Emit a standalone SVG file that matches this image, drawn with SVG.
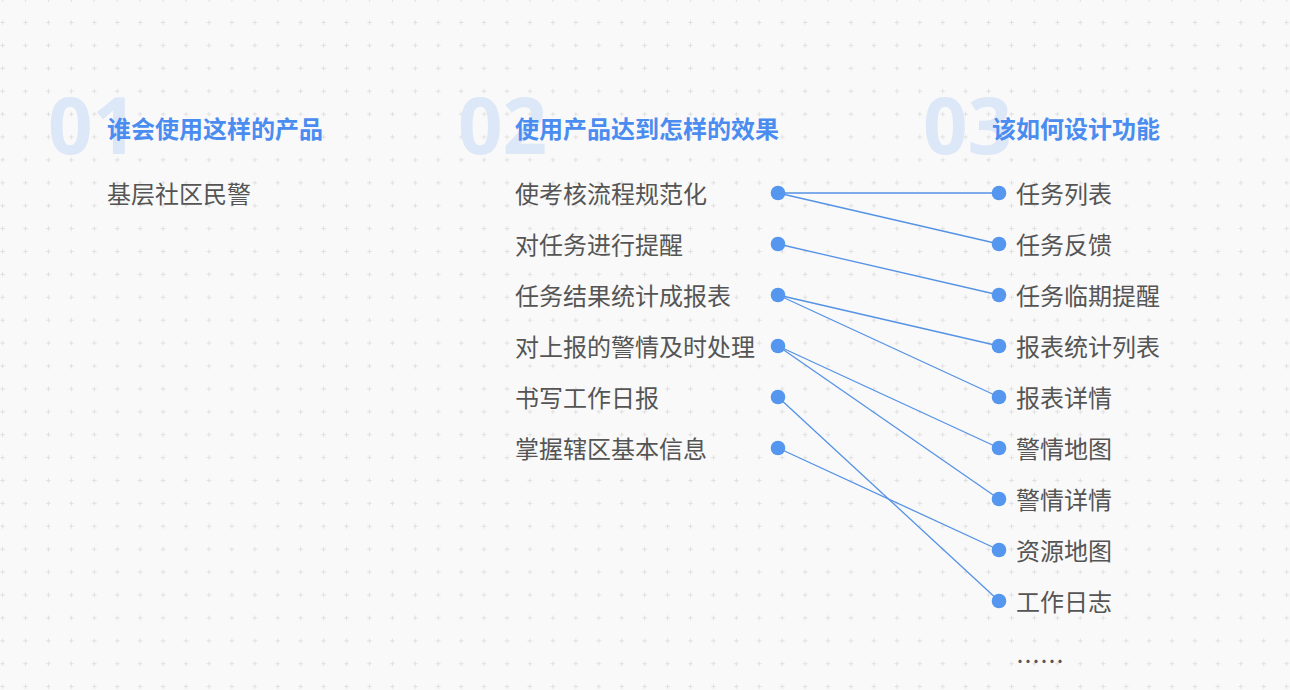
<svg xmlns="http://www.w3.org/2000/svg" width="1290" height="690" viewBox="0 0 1290 690">
<style>
.num{font-family:"Noto Sans","Liberation Sans",sans-serif;font-weight:700;font-size:78px;fill:#dce7f7}
.title{font-family:"Noto Sans CJK SC",sans-serif;font-weight:700;font-size:24px;fill:#4a8cef}
.txt{font-family:"Noto Sans CJK SC",sans-serif;font-size:24px;fill:#555555}
.dot{fill:#5596ee}
.ln{stroke:#5592e6;stroke-width:1.3;fill:none}
</style>
<defs>
<pattern id="grid" patternUnits="userSpaceOnUse" x="-8.87" y="-11.85" width="22.93" height="22.9">
<path d="M9.2 11.45H13.73M11.465 9.2V13.7" stroke="#e0e0e0" stroke-width="1"/>
</pattern>
</defs>
<rect width="1290" height="690" fill="#f9f9f9"/>
<rect width="1290" height="690" fill="url(#grid)"/>

<g id="section1">
<text class="num" x="48" y="154">01</text>
<text class="title" x="107" y="138">谁会使用这样的产品</text>
</g>
<g id="section2">
<text class="num" x="458" y="154">02</text>
<text class="title" x="515" y="138">使用产品达到怎样的效果</text>
</g>
<g id="section3">
<text class="num" x="923" y="154">03</text>
<text class="title" x="992" y="138">该如何设计功能</text>
</g>

<g id="user">
<text class="txt" x="107" y="203">基层社区民警</text>
</g>

<g id="connectors">
<line class="ln" x1="778" y1="193" x2="999" y2="193"/>
<line class="ln" x1="778" y1="193" x2="999" y2="244"/>
<line class="ln" x1="778" y1="244" x2="999" y2="295"/>
<line class="ln" x1="778" y1="295" x2="999" y2="346"/>
<line class="ln" x1="778" y1="295" x2="999" y2="397"/>
<line class="ln" x1="778" y1="346" x2="999" y2="448"/>
<line class="ln" x1="778" y1="346" x2="999" y2="499"/>
<line class="ln" x1="778" y1="397" x2="999" y2="601"/>
<line class="ln" x1="778" y1="448" x2="999" y2="550"/>
</g>

<g id="goal1"><text class="txt" x="515" y="203">使考核流程规范化</text><circle class="dot" cx="778" cy="193" r="7.3"/></g>
<g id="goal2"><text class="txt" x="515" y="254">对任务进行提醒</text><circle class="dot" cx="778" cy="244" r="7.3"/></g>
<g id="goal3"><text class="txt" x="515" y="305">任务结果统计成报表</text><circle class="dot" cx="778" cy="295" r="7.3"/></g>
<g id="goal4"><text class="txt" x="515" y="356">对上报的警情及时处理</text><circle class="dot" cx="778" cy="346" r="7.3"/></g>
<g id="goal5"><text class="txt" x="515" y="407">书写工作日报</text><circle class="dot" cx="778" cy="397" r="7.3"/></g>
<g id="goal6"><text class="txt" x="515" y="458">掌握辖区基本信息</text><circle class="dot" cx="778" cy="448" r="7.3"/></g>

<g id="func1"><circle class="dot" cx="999" cy="193" r="7.3"/><text class="txt" x="1016" y="203">任务列表</text></g>
<g id="func2"><circle class="dot" cx="999" cy="244" r="7.3"/><text class="txt" x="1016" y="254">任务反馈</text></g>
<g id="func3"><circle class="dot" cx="999" cy="295" r="7.3"/><text class="txt" x="1016" y="305">任务临期提醒</text></g>
<g id="func4"><circle class="dot" cx="999" cy="346" r="7.3"/><text class="txt" x="1016" y="356">报表统计列表</text></g>
<g id="func5"><circle class="dot" cx="999" cy="397" r="7.3"/><text class="txt" x="1016" y="407">报表详情</text></g>
<g id="func6"><circle class="dot" cx="999" cy="448" r="7.3"/><text class="txt" x="1016" y="458">警情地图</text></g>
<g id="func7"><circle class="dot" cx="999" cy="499" r="7.3"/><text class="txt" x="1016" y="509">警情详情</text></g>
<g id="func8"><circle class="dot" cx="999" cy="550" r="7.3"/><text class="txt" x="1016" y="560">资源地图</text></g>
<g id="func9"><circle class="dot" cx="999" cy="601" r="7.3"/><text class="txt" x="1016" y="611">工作日志</text></g>
<g id="more"><text class="txt" x="1016" y="670">……</text></g>
</svg>
